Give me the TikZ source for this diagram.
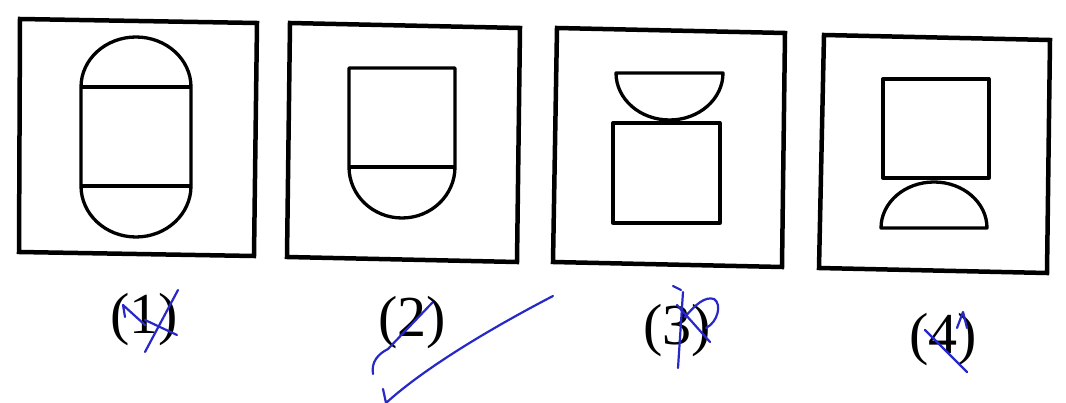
\documentclass[tikz,border=0pt]{standalone}
\usepackage{fontspec}
\setmainfont{Liberation Serif}
\begin{document}
\begin{tikzpicture}[x=1pt,y=-1pt,
  frame/.style={draw=black,line width=4.5pt,line join=miter},
  fig/.style={draw=black,line width=3.3pt,line join=round},
  lbl/.style={inner sep=0pt,font=\fontsize{58}{60}\selectfont},
  pen/.style={draw={rgb,255:red,40;green,40;blue,200},line width=2.2pt,line cap=round,line join=round}]
\useasboundingbox (0,0) rectangle (1066,403);
\fill[white] (0,0) rectangle (1066,403);
% frames
\draw[frame] (20,19) -- (257,23) -- (254,256) -- (19,252) -- cycle;
\draw[frame] (290,23) -- (520,28) -- (517,262) -- (287,257) -- cycle;
\draw[frame] (557,28) -- (785,33) -- (782,267) -- (553,262) -- cycle;
\draw[frame] (824,35) -- (1050,40) -- (1047,273) -- (819,268) -- cycle;
% figure 1: capsule
\draw[fig] (81,87) arc[start angle=180,end angle=360,x radius=55,y radius=50]
  -- (191,186) arc[start angle=0,end angle=180,x radius=55,y radius=51] -- cycle;
\draw[fig] (81,87) -- (191,87);
\draw[fig] (81,186) -- (191,186);
% figure 2
\draw[fig] (349,167) -- (349,68) -- (455,68) -- (455,167)
  arc[start angle=0,end angle=180,x radius=53,y radius=51] -- cycle;
\draw[fig] (349,167) -- (455,167);
% figure 3
\draw[fig] (616,73) -- (723,73) arc[start angle=0,end angle=180,x radius=53.5,y radius=47] -- cycle;
\draw[fig] (613,123) rectangle (720,223);
% figure 4
\draw[fig] (883,79) rectangle (989,178);
\draw[fig] (881,228) arc[start angle=180,end angle=360,x radius=53,y radius=46] -- cycle;
% labels
\node[lbl] (l1) at (144,320) {(1)};
\node[lbl] (l2) at (412,323) {(2)};
\node[lbl] (l3) at (677,331) {(3)};
\node[lbl] (l4) at (943,340) {(4)};
% blue pen marks
\draw[pen] (125,317) -- (123,305) -- (145,325);
\draw[pen] (145,352) -- (178,290);
\draw[pen] (145,320) -- (177,335);
\draw[pen] (373,374) .. controls (371,362) and (378,354) .. (388,349) -- (432,303);
\draw[pen] (383,389) -- (386,403) .. controls (420,372) and (480,334) .. (553,296);
\draw[pen] (673,286) -- (681,290);
\draw[pen] (678,368) -- (683,292);
\draw[pen] (685,317) .. controls (695,305) and (705,296) .. (714,299)
  .. controls (722,304) and (718,322) .. (706,328);
\draw[pen] (677,305) -- (710,342);
\draw[pen] (925,330) -- (967,372);
\draw[pen] (957,328) -- (963,312) -- (967,328);
\end{tikzpicture}
\end{document}
